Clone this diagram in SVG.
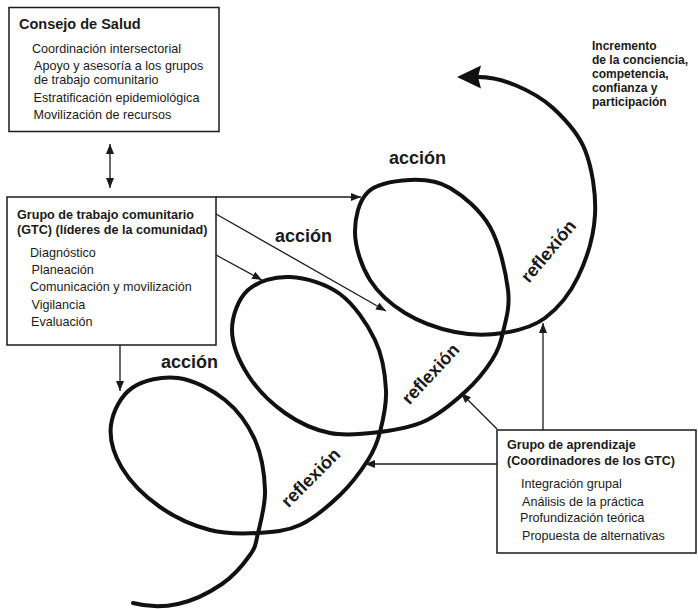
<svg xmlns="http://www.w3.org/2000/svg" width="698" height="609" viewBox="0 0 698 609">
<defs>
<style>
text{font-family:"Liberation Sans",Arial,sans-serif;fill:#1a1a1a}
.t{font-size:14.5px;font-weight:bold}
.h{font-size:12.6px;font-weight:bold}
.i{font-size:12.6px}
.n{font-size:12px;font-weight:bold}
.big{font-size:18px;font-weight:bold}
.box{fill:#fff;stroke:#1a1a1a;stroke-width:1.5}
.c{fill:none;stroke:#1a1a1a;stroke-width:1.3}
.sp{fill:none;stroke:#111;stroke-width:4;stroke-linecap:round;stroke-linejoin:round}
</style>
<marker id="ah" markerUnits="userSpaceOnUse" markerWidth="10" markerHeight="8" refX="10" refY="4" orient="auto-start-reverse">
<path d="M0,0 L10,4 L0,8 z" fill="#1a1a1a"/>
</marker>
</defs>
<rect width="698" height="609" fill="#fff"/>

<g id="spiral">
<path class="sp" d="M133,603 C148,607 163.2,607.2 178,604 S210,592.2 222,584 S244,563.5 250,555 S255.5,543.8 258,533 S265.5,505.5 265,490 S261.7,455 255,440 S237.8,410.3 225,400 S193.5,380 178,378 S143.2,380.2 132,388 S112.7,411.7 111,425 S113.8,454.3 122,468 S145.3,496.7 160,507 S193.7,525.7 210,530 S243,533.8 258,533 S286.3,531.3 300,525 S328.7,505.8 340,495 S361.3,470.5 368,460 S377,443.7 380,432 S386.8,405.3 386,390 S382.7,356 375,340 S354.2,304.5 340,294 S305.3,277.7 290,277 S257.7,281.2 248,290 S232,315.8 232,330 S239.2,361.2 248,375 S271.3,403.3 285,413 S314.2,429.8 330,433 S364.2,434 380,432 S410.8,427.7 425,421 S453.8,402.2 465,392 S485.7,370 492,360 S500.3,343.7 503,332 S510.2,307.5 508,290 S499.7,244 490,227 S463.3,195.8 450,188 S423.7,179.3 410,180 S377.2,183.2 368,192 S354.7,218.3 355,233 S361.7,266.7 370,280 S390.8,304.3 405,313 S438.7,328.7 455,332 S488,335.3 503,333 S532.5,327.3 545,318 S569.7,294.2 578,277 S593.8,236.2 595,215 S592,167.8 585,150 S564.7,118.8 553,108 S527.5,90.2 515,85 S490,77 478,77"/>
<polygon points="457,77 481,65.5 478,77 481,88.5" fill="#111"/>
<text class="big" x="389" y="164">acción</text>
<text class="big" x="275" y="242">acción</text>
<text class="big" x="161" y="368">acción</text>
<text class="big" text-anchor="middle" transform="translate(553,255) rotate(-50)">reflexión</text>
<text class="big" text-anchor="middle" transform="translate(435,378) rotate(-47)">reflexión</text>
<text class="big" text-anchor="middle" transform="translate(315,482) rotate(-45)">reflexión</text>
</g>

<g id="connectors">
<line class="c" x1="110" y1="144" x2="110" y2="188" marker-start="url(#ah)" marker-end="url(#ah)"/>
<line class="c" x1="216" y1="197" x2="361" y2="197" marker-end="url(#ah)"/>
<line class="c" x1="216" y1="214" x2="386" y2="311" marker-end="url(#ah)"/>
<line class="c" x1="216" y1="255" x2="262" y2="280" marker-end="url(#ah)"/>
<line class="c" x1="120" y1="345" x2="120" y2="391" marker-end="url(#ah)"/>
<line class="c" x1="543" y1="430" x2="543" y2="323" marker-end="url(#ah)"/>
<line class="c" x1="497" y1="429" x2="461" y2="393" marker-end="url(#ah)"/>
<line class="c" x1="497" y1="464" x2="365" y2="464" marker-end="url(#ah)"/>
</g>

<g id="consejo">
<rect class="box" x="9" y="7.5" width="210" height="124"/>
<text class="t" x="19" y="28.5">Consejo de Salud</text>
<text class="i" x="32" y="53">Coordinación intersectorial</text>
<text class="i" x="34" y="70">Apoyo y asesoría a los grupos</text>
<text class="i" x="34" y="83.5">de trabajo comunitario</text>
<text class="i" x="33.5" y="101.5">Estratificación epidemiológica</text>
<text class="i" x="33.5" y="119">Movilización de recursos</text>
</g>

<g id="gtc">
<rect class="box" x="7" y="197" width="209" height="148"/>
<text class="h" x="17" y="219">Grupo de trabajo comunitario</text>
<text class="h" x="17" y="234">(GTC) (líderes de la comunidad)</text>
<text class="i" x="30" y="256.5">Diagnóstico</text>
<text class="i" x="31.5" y="274">Planeación</text>
<text class="i" x="30" y="291">Comunicación y movilización</text>
<text class="i" x="31.5" y="309">Vigilancia</text>
<text class="i" x="31" y="325.5">Evaluación</text>
</g>

<g id="aprendizaje">
<rect class="box" x="497" y="430" width="199" height="123"/>
<text class="h" x="507" y="449">Grupo de aprendizaje</text>
<text class="h" x="507" y="465">(Coordinadores de los GTC)</text>
<text class="i" x="521" y="488">Integración grupal</text>
<text class="i" x="522" y="506">Análisis de la práctica</text>
<text class="i" x="520" y="522">Profundización teórica</text>
<text class="i" x="522" y="540">Propuesta de alternativas</text>
</g>

<g id="incremento">
<text class="n" x="592" y="50">Incremento</text>
<text class="n" x="592" y="64">de la conciencia,</text>
<text class="n" x="592" y="78">competencia,</text>
<text class="n" x="592" y="92">confianza y</text>
<text class="n" x="592" y="106">participación</text>
</g>
</svg>
